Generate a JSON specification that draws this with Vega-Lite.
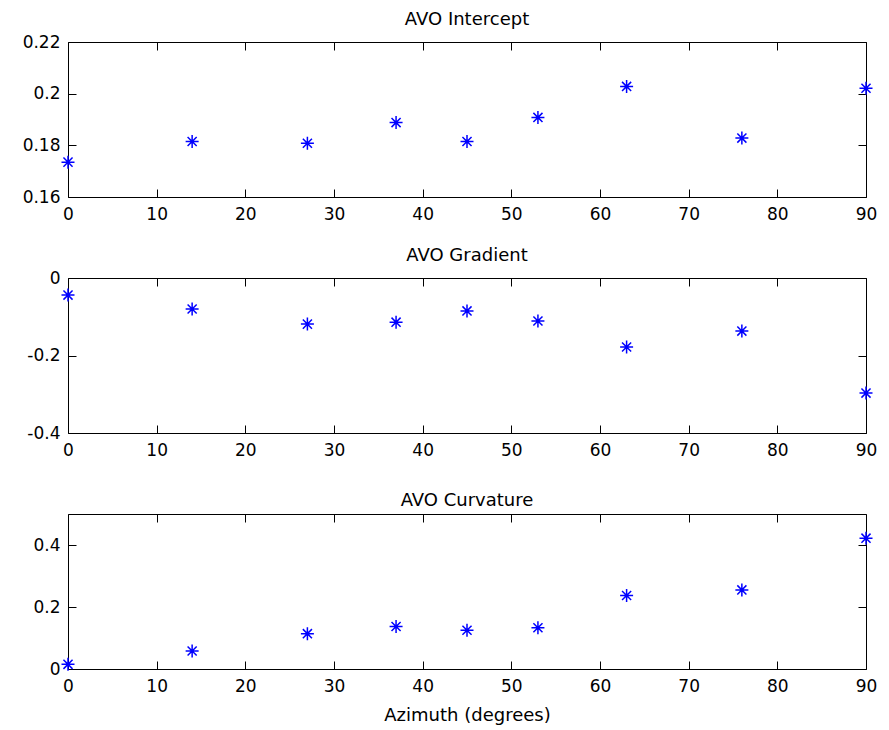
{
  "$schema": "https://vega.github.io/schema/vega-lite/v6.json",
  "padding": {"left": 15, "top": 10, "right": 0, "bottom": 0},
  "background": "white",
  "spacing": 81,
  "bounds": "flush",
  "config": {
    "font": "DejaVu Sans",
    "view": {"stroke": "black", "strokeWidth": 1},
    "axis": {"grid": false, "domain": false, "ticks": true, "tickColor": "black", "tickSize": 8, "offset": -8, "tickWidth": 1, "labelColor": "black", "labelFont": "DejaVu Sans", "labelFontSize": 17, "labelFlush": false, "labelOverlap": false, "titleFont": "DejaVu Sans", "titleFontSize": 18, "titleFontWeight": "normal", "titleColor": "black", "zindex": 1},
    "title": {"font": "DejaVu Sans", "fontSize": 18, "fontWeight": "normal", "color": "black", "anchor": "middle", "frame": "group", "offset": 4}
  },
  "data": {"values": [
    {"az": 0, "intercept": 0.1735, "gradient": -0.044, "curvature": 0.015},
    {"az": 14, "intercept": 0.1815, "gradient": -0.080, "curvature": 0.058},
    {"az": 27, "intercept": 0.1808, "gradient": -0.119, "curvature": 0.114},
    {"az": 37, "intercept": 0.1888, "gradient": -0.114, "curvature": 0.137},
    {"az": 45, "intercept": 0.1815, "gradient": -0.085, "curvature": 0.125},
    {"az": 53, "intercept": 0.1908, "gradient": -0.111, "curvature": 0.133},
    {"az": 63, "intercept": 0.2028, "gradient": -0.178, "curvature": 0.237},
    {"az": 76, "intercept": 0.1828, "gradient": -0.137, "curvature": 0.255},
    {"az": 90, "intercept": 0.2021, "gradient": -0.297, "curvature": 0.422}
  ]},
  "vconcat": [
    {
      "title": {"text": "AVO Intercept"},
      "width": 798, "height": 155,
      "layer": [
        {
          "mark": {"type": "point", "shape": "M-1,0L1,0M0,-1L0,1M-0.7,-0.7L0.7,0.7M-0.7,0.7L0.7,-0.7", "filled": false, "stroke": "#0000ff", "strokeWidth": 1.5, "size": 169, "opacity": 1},
          "encoding": {
            "x": {"field": "az", "type": "quantitative", "scale": {"domain": [0, 90], "nice": false, "zero": false}, "axis": {"orient": "bottom", "values": [0,10,20,30,40,50,60,70,80,90], "labelPadding": 9, "title": null, "labelExpr": "'' + datum.value", "minExtent": 25, "maxExtent": 25}},
            "y": {"field": "intercept", "type": "quantitative", "scale": {"domain": [0.16, 0.22], "nice": false, "zero": false}, "axis": {"orient": "left", "values": [0.16, 0.18, 0.2, 0.22], "labelPadding": 8, "title": null, "labelExpr": "'' + datum.value", "minExtent": 60, "maxExtent": 60}}
          }
        },
        {
          "mark": {"type": "point", "opacity": 0},
          "encoding": {
            "x": {"field": "az", "type": "quantitative", "axis": {"orient": "top", "values": [0,10,20,30,40,50,60,70,80,90], "labels": false, "title": null, "minExtent": 0, "maxExtent": 0}},
            "y": {"field": "intercept", "type": "quantitative", "axis": {"orient": "right", "values": [0.16, 0.18, 0.2, 0.22], "labels": false, "title": null, "minExtent": 0, "maxExtent": 0}}
          }
        }
      ],
      "resolve": {"axis": {"x": "independent", "y": "independent"}}
    },
    {
      "title": {"text": "AVO Gradient"},
      "width": 798, "height": 155,
      "layer": [
        {
          "mark": {"type": "point", "shape": "M-1,0L1,0M0,-1L0,1M-0.7,-0.7L0.7,0.7M-0.7,0.7L0.7,-0.7", "filled": false, "stroke": "#0000ff", "strokeWidth": 1.5, "size": 169, "opacity": 1},
          "encoding": {
            "x": {"field": "az", "type": "quantitative", "scale": {"domain": [0, 90], "nice": false, "zero": false}, "axis": {"orient": "bottom", "values": [0,10,20,30,40,50,60,70,80,90], "labelPadding": 9, "title": null, "labelExpr": "'' + datum.value", "minExtent": 25, "maxExtent": 25}},
            "y": {"field": "gradient", "type": "quantitative", "scale": {"domain": [-0.4, 0], "nice": false, "zero": false}, "axis": {"orient": "left", "values": [-0.4, -0.2, 0], "labelPadding": 8, "title": null, "labelExpr": "'' + datum.value", "minExtent": 60, "maxExtent": 60}}
          }
        },
        {
          "mark": {"type": "point", "opacity": 0},
          "encoding": {
            "x": {"field": "az", "type": "quantitative", "axis": {"orient": "top", "values": [0,10,20,30,40,50,60,70,80,90], "labels": false, "title": null, "minExtent": 0, "maxExtent": 0}},
            "y": {"field": "gradient", "type": "quantitative", "axis": {"orient": "right", "values": [-0.4, -0.2, 0], "labels": false, "title": null, "minExtent": 0, "maxExtent": 0}}
          }
        }
      ],
      "resolve": {"axis": {"x": "independent", "y": "independent"}}
    },
    {
      "title": {"text": "AVO Curvature"},
      "width": 798, "height": 155,
      "layer": [
        {
          "mark": {"type": "point", "shape": "M-1,0L1,0M0,-1L0,1M-0.7,-0.7L0.7,0.7M-0.7,0.7L0.7,-0.7", "filled": false, "stroke": "#0000ff", "strokeWidth": 1.5, "size": 169, "opacity": 1},
          "encoding": {
            "x": {"field": "az", "type": "quantitative", "scale": {"domain": [0, 90], "nice": false, "zero": false}, "axis": {"orient": "bottom", "values": [0,10,20,30,40,50,60,70,80,90], "labelPadding": 9, "title": "Azimuth (degrees)", "titlePadding": 12, "labelExpr": "'' + datum.value"}},
            "y": {"field": "curvature", "type": "quantitative", "scale": {"domain": [0, 0.5], "nice": false, "zero": false}, "axis": {"orient": "left", "values": [0, 0.2, 0.4], "labelPadding": 8, "title": null, "labelExpr": "'' + datum.value", "minExtent": 60, "maxExtent": 60}}
          }
        },
        {
          "mark": {"type": "point", "opacity": 0},
          "encoding": {
            "x": {"field": "az", "type": "quantitative", "axis": {"orient": "top", "values": [0,10,20,30,40,50,60,70,80,90], "labels": false, "title": null, "minExtent": 0, "maxExtent": 0}},
            "y": {"field": "curvature", "type": "quantitative", "axis": {"orient": "right", "values": [0, 0.2, 0.4], "labels": false, "title": null, "minExtent": 0, "maxExtent": 0}}
          }
        }
      ],
      "resolve": {"axis": {"x": "independent", "y": "independent"}}
    }
  ]
}
